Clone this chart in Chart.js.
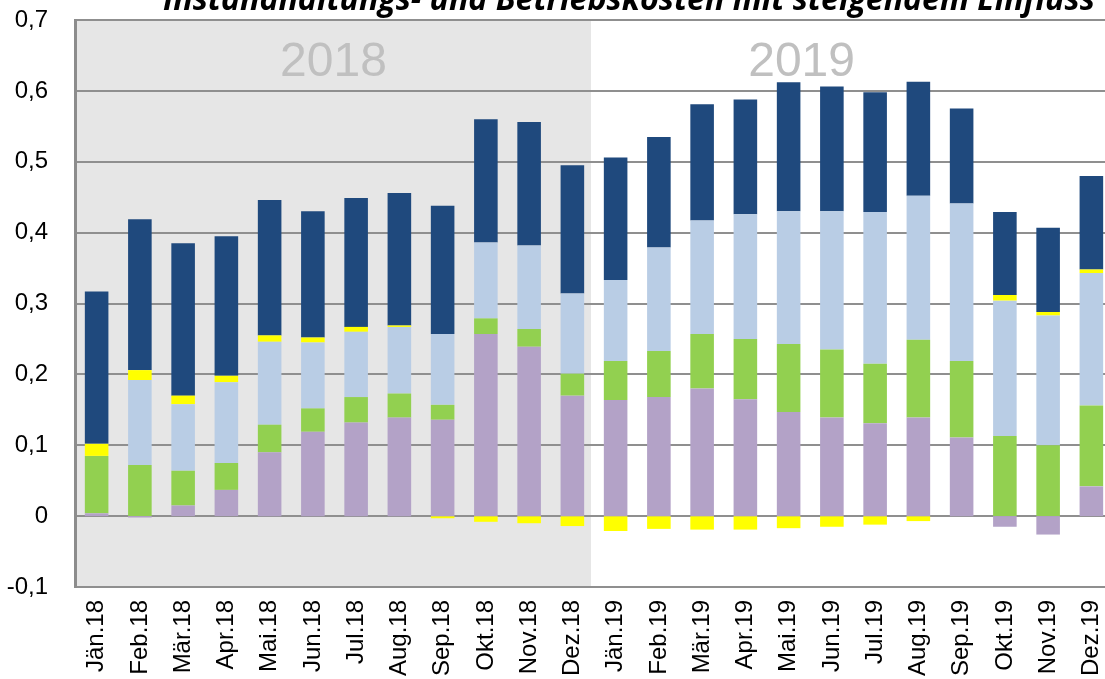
<!DOCTYPE html>
<html>
<head>
<meta charset="utf-8">
<script src="https://cdn.jsdelivr.net/npm/chart.js@4"></script>
<style>
  html, body { margin: 0; padding: 0; overflow: hidden; background: #fff; }
  #wrap { position: absolute; left: 0; top: 0; width: 1113px; height: 679px; }
</style>
</head>
<body>
<div id="wrap"><canvas id="c"></canvas></div>
<script>
const categories = ["Jän.18","Feb.18","Mär.18","Apr.18","Mai.18","Jun.18","Jul.18","Aug.18","Sep.18","Okt.18","Nov.18","Dez.18",
                    "Jän.19","Feb.19","Mär.19","Apr.19","Mai.19","Jun.19","Jul.19","Aug.19","Sep.19","Okt.19","Nov.19","Dez.19"];
const purpleVals    = [0.004,-0.002,0.015,0.037,0.090,0.119,0.132,0.139,0.136,0.257,0.239,0.170,
                       0.164,0.168,0.180,0.165,0.147,0.139,0.131,0.139,0.111,-0.015,-0.026,0.042];
const greenVals     = [0.081,0.072,0.049,0.038,0.039,0.033,0.036,0.034,0.021,0.022,0.025,0.031,
                       0.055,0.065,0.077,0.085,0.096,0.096,0.084,0.110,0.108,0.113,0.100,0.114];
const lightBlueVals = [0.000,0.120,0.094,0.114,0.117,0.093,0.092,0.094,0.100,0.107,0.118,0.113,
                       0.114,0.146,0.160,0.176,0.187,0.195,0.214,0.203,0.222,0.191,0.183,0.187];
const yellowVals    = [0.017,0.014,0.012,0.009,0.009,0.007,0.007,0.002,-0.003,-0.008,-0.010,-0.014,
                       -0.021,-0.018,-0.019,-0.019,-0.017,-0.015,-0.012,-0.007,0.000,0.008,0.005,0.005];
const darkBlueVals  = [0.215,0.213,0.215,0.197,0.191,0.178,0.182,0.187,0.181,0.174,0.174,0.181,
                       0.173,0.156,0.164,0.162,0.182,0.176,0.169,0.161,0.134,0.117,0.119,0.132];
const yearLabels = ["2018", "2019"];
const titleText = "Instandhaltungs- und Betriebskosten mit steigendem Einfluss";
const yMin = -0.1, yMax = 0.7, yStep = 0.1;

const backgroundPlugin = {
  id: 'bgShade',
  beforeDraw(chart) {
    const { ctx, chartArea, scales } = chart;
    const x = scales.x;
    ctx.save();
    ctx.fillStyle = '#ffffff';
    ctx.fillRect(0, 0, chart.width, chart.height);
    const boundary = (x.getPixelForValue(11) + x.getPixelForValue(12)) / 2 - 3;
    ctx.fillStyle = '#e6e6e6';
    ctx.fillRect(chartArea.left, chartArea.top, boundary - chartArea.left, chartArea.bottom - chartArea.top);
    ctx.fillStyle = '#c0c0c0';
    ctx.font = '48px "Liberation Sans", Arial, sans-serif';
    ctx.textAlign = 'center';
    ctx.textBaseline = 'alphabetic';
    ctx.fillText(yearLabels[0], x.getPixelForValue(5.5) - 1, 76);
    ctx.fillText(yearLabels[1], x.getPixelForValue(16.3), 76);
    ctx.restore();
  },
  afterDraw(chart) {
    const { ctx } = chart;
    ctx.save();
    ctx.fillStyle = '#000';
    ctx.font = 'italic bold 100px "Open Sans", sans-serif';
    const w = ctx.measureText(titleText).width;
    const size = 100 * 932 / w;
    ctx.font = 'italic bold ' + size.toFixed(2) + 'px "Open Sans", sans-serif';
    ctx.textAlign = 'left';
    ctx.textBaseline = 'alphabetic';
    ctx.fillText(titleText, 163, 10);
    ctx.restore();
  }
};

const mk = (label, data, color) => ({
  label, data, backgroundColor: color, borderWidth: 0,
  categoryPercentage: 1, barPercentage: 0.545
});

new Chart(document.getElementById('c'), {
  type: 'bar',
  data: {
    labels: categories,
    datasets: [
      mk('Lila', purpleVals, '#b3a2c7'),
      mk('Grün', greenVals, '#92d050'),
      mk('Hellblau', lightBlueVals, '#b9cde5'),
      mk('Gelb', yellowVals, '#ffff00'),
      mk('Dunkelblau', darkBlueVals, '#1f497d')
    ]
  },
  options: {
    responsive: true,
    maintainAspectRatio: false,
    animation: false,
    layout: { padding: { top: 20, left: 0, right: 0, bottom: 0 } },
    plugins: { legend: { display: false }, title: { display: false }, tooltip: { enabled: false } },
    scales: {
      x: {
        stacked: true,
        offset: true,
        grid: { display: false, drawTicks: false },
        border: { display: false },
        ticks: {
          autoSkip: false, minRotation: 90, maxRotation: 90, padding: 13,
          color: '#000', font: { family: '"Liberation Sans", Arial, sans-serif', size: 24 }
        },
        afterFit(scale) { scale.height = 92; scale.paddingLeft = 0; scale.paddingRight = 0; }
      },
      y: {
        stacked: true,
        min: yMin, max: yMax,
        grid: { color: '#8f8f8f', lineWidth: 2, drawTicks: false },
        border: { display: true, color: '#8c8c8c', width: 3 },
        ticks: {
          stepSize: yStep, padding: 27, color: '#000',
          font: { family: '"Liberation Sans", Arial, sans-serif', size: 24 },
          callback: (v) => { const r = Math.round(v * 10) / 10; return r === 0 ? '0' : r.toFixed(1).replace('.', ','); }
        },
        afterFit(scale) { scale.width = 75; scale.paddingTop = 0; scale.paddingBottom = 0; }
      }
    }
  },
  plugins: [backgroundPlugin]
});
</script>
</body>
</html>
